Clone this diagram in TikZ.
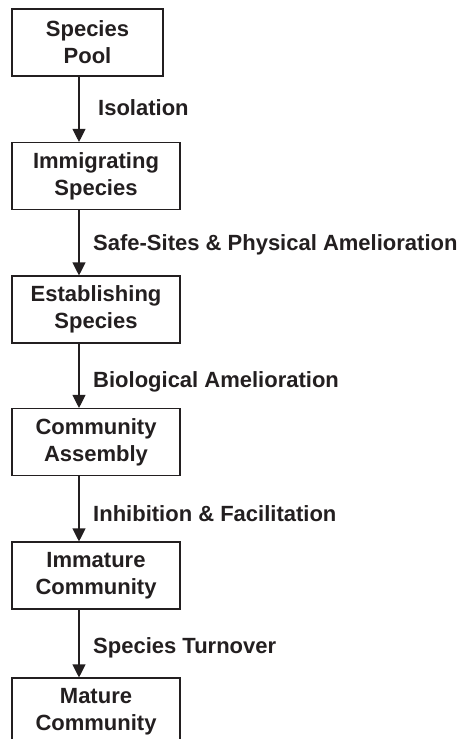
\documentclass[tikz,border=0pt]{standalone}
\usepackage{fontspec}
\setmainfont{Liberation Sans}
\usetikzlibrary{arrows.meta}
\definecolor{ink}{HTML}{231F20}
\begin{document}
\begin{tikzpicture}[x=1pt,y=-1pt,
  every node/.style={font=\fontsize{22}{27}\selectfont\bfseries, text=ink},
  stagebox/.style={draw=ink, line width=1.1pt, align=center, inner sep=0pt, minimum height=67pt},
  flowarrow/.style={draw=ink, line width=1.1pt, -{Triangle[width=13pt,length=13pt]}},
  steplabel/.style={anchor=base west, inner sep=0pt}]
\useasboundingbox (0,0) rectangle (464,739);
\node[stagebox, minimum width=151pt] (b1) at (87.5,42.5) {Species\\Pool};
\node[stagebox, minimum width=168pt] (b2) at (96,176) {Immigrating\\Species};
\node[stagebox, minimum width=168pt] (b3) at (96,309.5) {Establishing\\Species};
\node[stagebox, minimum width=168pt] (b4) at (96,442) {Community\\Assembly};
\node[stagebox, minimum width=168pt] (b5) at (96,575.5) {Immature\\Community};
\node[stagebox, minimum width=168pt] (b6) at (96,711.5) {Mature\\Community};
\coordinate (ax) at (79,0);
\draw[flowarrow] (b1.south -| ax) -- (b2.north -| ax);
\draw[flowarrow] (b2.south -| ax) -- (b3.north -| ax);
\draw[flowarrow] (b3.south -| ax) -- (b4.north -| ax);
\draw[flowarrow] (b4.south -| ax) -- (b5.north -| ax);
\draw[flowarrow] (b5.south -| ax) -- (b6.north -| ax);
\node[steplabel] (l1) at (98,115) {Isolation};
\node[steplabel] (l2) at (93,250) {Safe-Sites \& Physical Amelioration};
\node[steplabel] (l3) at (93,387) {Biological Amelioration};
\node[steplabel] (l4) at (93,521) {Inhibition \& Facilitation};
\node[steplabel] (l5) at (93,653) {Species Turnover};
\end{tikzpicture}
\end{document}
